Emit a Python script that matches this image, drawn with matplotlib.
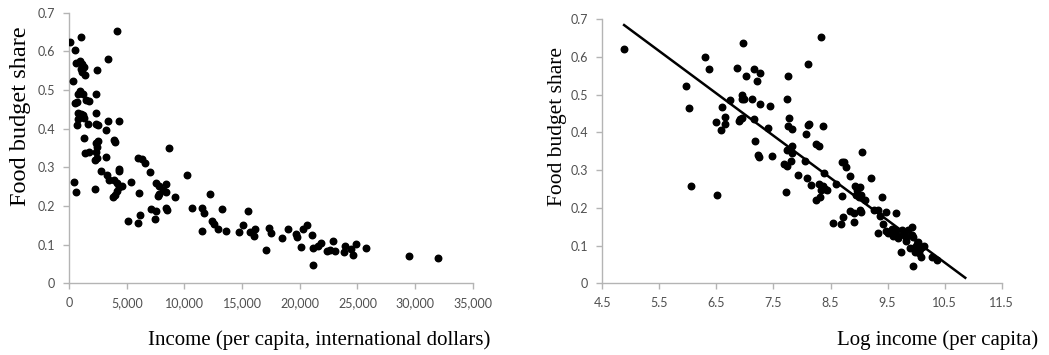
import matplotlib
matplotlib.use("Agg")
import matplotlib.pyplot as plt
from matplotlib.ticker import FuncFormatter
import numpy as np

# left panel: income (per capita) vs food budget share
income = [110, 1070, 4160, 520, 3350, 610, 950, 1130, 1330, 1070, 1360, 1150,
          2400, 370, 2310, 950, 1190, 810, 1500, 1710, 490, 690, 750, 980,
          1190, 1330, 810, 690, 1010, 2340, 1650, 2340, 2540, 3380, 4310, 3210,
          1300, 3870, 4010, 2370, 2510, 2400, 2310, 1360, 1710, 2230, 2400, 3180,
          2800, 4310, 4360, 3270, 3470, 3930, 4190, 4310, 4590, 4160, 3790, 4010,
          410, 630, 2230,
          8690, 6010, 6330, 6560, 6990, 5400, 6040, 7540, 7830, 8380, 8120, 8410,
          7690, 7830, 9160, 10230, 7080, 7540, 8410, 8490, 6150, 5980, 5140, 7430,
          10660, 11550, 11730, 12190, 11500, 12370, 12590, 12910, 13290, 13630,
          14760, 15050, 15540, 15660, 16010, 16150,
          17100, 17330, 17480, 18430, 18980, 19670, 19790, 20110, 20250, 20630,
          21090, 21170, 21150, 21610, 21810, 22330, 22650, 22850, 23080, 23790,
          23900, 24410, 24610, 24850, 25770, 29460, 31980]
share_left = [0.625, 0.637, 0.653, 0.603, 0.580, 0.570, 0.574, 0.567, 0.560, 0.555, 0.538, 0.548,
              0.552, 0.524, 0.490, 0.498, 0.490, 0.491, 0.475, 0.472, 0.466, 0.469, 0.440, 0.436,
              0.435, 0.427, 0.426, 0.410, 0.438, 0.440, 0.413, 0.413, 0.409, 0.420, 0.419, 0.397,
              0.377, 0.370, 0.365, 0.363, 0.367, 0.352, 0.341, 0.338, 0.339, 0.318, 0.324, 0.326,
              0.291, 0.296, 0.291, 0.281, 0.266, 0.266, 0.259, 0.250, 0.251, 0.239, 0.223, 0.229,
              0.261, 0.237, 0.244,
              0.349, 0.323, 0.322, 0.312, 0.288, 0.263, 0.233, 0.260, 0.252, 0.257, 0.242, 0.237,
              0.226, 0.230, 0.222, 0.281, 0.193, 0.188, 0.196, 0.189, 0.177, 0.157, 0.162, 0.166,
              0.195, 0.195, 0.181, 0.231, 0.135, 0.160, 0.154, 0.140, 0.192, 0.136,
              0.133, 0.150, 0.187, 0.134, 0.122, 0.141,
              0.085, 0.142, 0.131, 0.117, 0.141, 0.127, 0.121, 0.095, 0.140, 0.152,
              0.126, 0.091, 0.048, 0.097, 0.105, 0.084, 0.086, 0.109, 0.084, 0.081,
              0.096, 0.089, 0.074, 0.102, 0.092, 0.071, 0.065]

# right panel: log income vs food budget share
log_income = [4.885, 6.31, 6.376, 5.97, 6.03, 6.60, 6.65, 6.49, 6.66, 6.59, 6.05, 6.51, 6.74,
              6.87, 6.97, 7.02, 6.95, 6.95, 6.99, 6.90, 6.91, 6.95, 7.13, 7.16, 7.26, 7.22,
              7.26, 7.16, 7.18, 7.23, 7.24, 7.44, 7.40, 7.47, 7.75, 7.74, 7.78, 7.76, 7.82,
              7.73, 7.79, 7.82, 7.83, 7.68, 7.73, 7.81, 7.72, 7.93,
              8.33, 8.11, 8.11, 8.13, 8.36, 8.07, 8.25, 8.30, 8.05, 8.09, 8.15, 8.38, 8.29,
              8.36, 8.40, 8.44, 8.33, 8.31, 8.24, 8.60, 8.70, 8.70, 8.74, 8.78, 8.84, 8.54,
              8.69, 8.72, 8.91,
              9.06, 9.21, 8.93, 9.02, 8.97, 8.94, 9.03, 9.00, 9.11, 9.02, 9.03, 8.85, 8.91,
              9.40, 9.27, 9.34, 9.37, 9.48, 9.64, 9.34,
              9.42, 9.47, 9.51, 9.58, 9.63, 9.66, 9.59, 9.69, 9.75, 9.79, 9.82, 9.86, 9.92,
              9.93, 9.83, 9.95, 9.74, 9.95, 9.90, 9.98, 10.02, 10.06, 10.11, 10.13, 10.01,
              10.09, 10.05, 9.98, 10.28, 10.36, 10.04]
share_right = [0.622, 0.601, 0.569, 0.523, 0.464, 0.467, 0.441, 0.427, 0.421, 0.407, 0.258, 0.233, 0.486,
               0.571, 0.636, 0.550, 0.498, 0.489, 0.488, 0.431, 0.436, 0.438, 0.489, 0.568, 0.557, 0.537,
               0.474, 0.436, 0.376, 0.339, 0.336, 0.471, 0.412, 0.337, 0.550, 0.488, 0.438, 0.417, 0.409,
               0.354, 0.355, 0.365, 0.345, 0.315, 0.312, 0.323, 0.241, 0.288,
               0.653, 0.580, 0.419, 0.422, 0.418, 0.396, 0.370, 0.364, 0.324, 0.278, 0.260, 0.291, 0.263,
               0.259, 0.251, 0.246, 0.246, 0.229, 0.220, 0.263, 0.231, 0.322, 0.321, 0.309, 0.285, 0.159,
               0.156, 0.176, 0.162,
               0.347, 0.278, 0.258, 0.256, 0.247, 0.234, 0.235, 0.228, 0.220, 0.194, 0.188, 0.191, 0.186,
               0.230, 0.194, 0.193, 0.178, 0.189, 0.185, 0.133,
               0.157, 0.138, 0.134, 0.145, 0.141, 0.128, 0.125, 0.121, 0.140, 0.129, 0.122, 0.141, 0.148,
               0.127, 0.113, 0.122, 0.083, 0.046, 0.094, 0.097, 0.104, 0.090, 0.095, 0.099, 0.086,
               0.071, 0.080, 0.083, 0.069, 0.062, 0.110]

# fitted line (share = b0 + b1 * log income)
fit_range = [4.885, 10.86]
b0, b1 = 1.232, -0.1121

tick_col = '#505050'
spine_col = '#b4b4b4'
label_font = 'Liberation Serif'
tick_font = 'Lato'

fig = plt.figure(figsize=(10.49, 3.55), dpi=100)
ax1 = fig.add_axes([0.0658, 0.202, 0.385, 0.762])
ax2 = fig.add_axes([0.574, 0.202, 0.381, 0.744])


def style(ax, ysize):
    for s in ['top', 'right']:
        ax.spines[s].set_visible(False)
    for s in ['left', 'bottom']:
        ax.spines[s].set_color(spine_col)
        ax.spines[s].set_linewidth(1.0)
    ax.tick_params(axis='both', colors=spine_col, length=4, width=1.0,
                   labelcolor=tick_col, labelsize=9, pad=6)
    for lab in ax.get_xticklabels() + ax.get_yticklabels():
        lab.set_fontfamily(tick_font)
    ax.set_ylim(0, 0.7)
    ax.set_yticks(np.arange(0, 0.71, 0.1))
    ax.yaxis.set_major_formatter(FuncFormatter(lambda v, p: '0' if v == 0 else '%.1f' % v))
    ax.set_ylabel('Food budget share', fontfamily=label_font, fontsize=ysize)


ax1.scatter(income, share_left, s=22, color='black', zorder=3)
ax1.set_xlim(0, 35000)
ax1.set_xticks(np.arange(0, 35001, 5000))
ax1.xaxis.set_major_formatter(FuncFormatter(lambda v, p: '{:,.0f}'.format(v)))
style(ax1, 17.5)
ax1.set_xlabel('Income (per capita, international dollars)', fontfamily=label_font, fontsize=15)
ax1.xaxis.set_label_coords(0.619, -0.172)
ax1.yaxis.set_label_coords(-0.094, 0.618)

ax2.scatter(log_income, share_right, s=22, color='black', zorder=3)
xs = np.array(fit_range)
ax2.plot(xs, b0 + b1 * xs, color='black', linewidth=1.8, zorder=2)
ax2.set_xlim(4.5, 11.5)
ax2.set_xticks(np.arange(4.5, 11.6, 1.0))
ax2.xaxis.set_major_formatter(FuncFormatter(lambda v, p: '%.1f' % v))
style(ax2, 15.5)
ax2.set_xlabel('Log income (per capita)', fontfamily=label_font, fontsize=15)
ax2.xaxis.set_label_coords(0.839, -0.176)
ax2.yaxis.set_label_coords(-0.088, 0.592)

fig.savefig('out.png', dpi=100)
